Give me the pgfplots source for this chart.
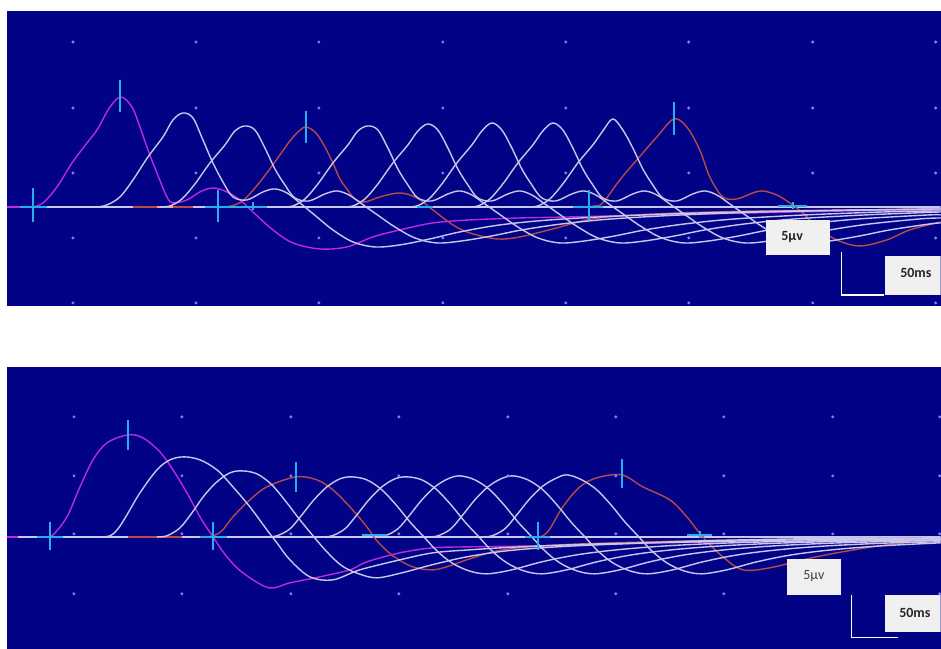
\documentclass[border=0pt]{standalone}
\usepackage{pgfplots}
\pgfplotsset{compat=1.18}
\usepackage{fontspec}
\setmainfont{Carlito}
\definecolor{bg}{RGB}{2,2,135}
\definecolor{wtr}{RGB}{200,200,238}
\definecolor{ptr}{RGB}{190,40,225}
\definecolor{btr}{RGB}{185,72,72}
\definecolor{cy}{RGB}{40,175,235}
\definecolor{dotc}{RGB}{130,130,255}
\definecolor{boxg}{RGB}{240,240,240}
\definecolor{salm}{RGB}{235,170,150}
\pgfplotsset{
  panel/.style={scale only axis, axis background/.style={fill=bg}, axis line style={draw=none},
    xtick=\empty, ytick=\empty, xmin=7, xmax=941},
  trw/.style={color=wtr, line width=1.4pt, smooth, tension=0.55, mark=none},
  trp/.style={color=ptr, line width=1.4pt, smooth, tension=0.55, mark=none},
  trb/.style={color=btr, line width=1.4pt, smooth, tension=0.55, mark=none},
  base/.style={line width=1.6pt, mark=none},
  mk/.style={color=cy, line width=1.5pt, mark=none},
  dots/.style={only marks, mark=*, mark size=1.3pt, color=dotc},
}
\begin{document}
\begin{tikzpicture}[x=1pt,y=1pt]
\fill[white] (0,0) rectangle (941,-649);
% ---------------- top panel ----------------
\begin{axis}[panel, at={(7pt,-11pt)}, anchor=north west, width=934pt, height=295pt, ymin=-99, ymax=196]
\addplot[dots] coordinates {
(73,165)(196,165)(319,165)(443,165)(566,165)(689,165)(813,165)(936,165)
(73,99)(196,99)(319,99)(443,99)(566,99)(689,99)(813,99)(936,99)
(73,34)(196,34)(319,34)(443,34)(566,34)(689,34)(813,34)(936,34)
(73,-31)(196,-31)(319,-31)(443,-31)(566,-31)(689,-31)(936,-31)
(73,-96)(196,-96)(319,-96)(443,-96)(566,-96)(689,-96)(813,-96)(936,-96)};
% baseline
\addplot[base, color=wtr] coordinates {(7,0)(941,0)};
\addplot[base, color=ptr] coordinates {(7,0)(30,0)};
\addplot[base, color=btr] coordinates {(133,0)(193,0)};
\addplot[base, color=salm] coordinates {(157,0)(173,0)};
% purple
\addplot[trp] coordinates {(33,0)(43,4)(57,20)(72,44)(87,64)(97,77)(110,100)(121,110)(132,100)(140,80)(148,57)(157,34)(167,10)(173,4)(187,7)(200,15)(213,19)(227,15)(240,7)(253,-5)(273,-23)(293,-36)(320,-42)(347,-40)(373,-30)(400,-23)(433,-16)(470,-13)(520,-11)(570,-10)(650,-8)(750,-6)(850,-4)(941,-3)};
% brown 306
\addplot[trb] coordinates {(225,0)(235,2)(245,8)(260,25)(275,45)(290,66)(298,75)(306,80)(316,74)(325,60)(333,44)(340,28)(347,18)(355,8)(365,5)(380,10)(400,14)(417,9)(433,-3)(453,-18)(470,-26)(497,-32)(520,-30)(553,-22)(587,-13)(620,-9)(680,-6)(760,-4)(860,-3)(941,-2)};
% brown 674
\addplot[trb] coordinates {(585,0)(595,1)(603,4)(620,27)(637,47)(657,70)(674,88)(687,80)(700,57)(710,30)(723,10)(737,8)(753,14)(763,16)(777,12)(790,4)(803,-6)(817,-20)(837,-33)(860,-39)(887,-33)(910,-23)(941,-15)};
% whites
\addplot[trw] coordinates {(97,0)(107,2)(120,10)(133,27)(148,50)(163,70)(173,87)(183,94)(193,89)(203,67)(213,44)(223,25)(233,10)(247,7)(263,15)(275,18)(287,14)(300,4)(317,-10)(333,-23)(353,-35)(375,-40)(400,-38)(430,-32)(460,-25)(500,-18)(550,-13)(620,-9)(700,-6)(800,-4)(941,-2)};
\addplot[trw] coordinates {(160,0)(170,1)(182,8)(195,23)(210,44)(225,62)(235,76)(245,81)(255,77)(265,59)(275,38)(285,22)(295,9)(309,6)(325,13)(337,16)(349,12)(362,3)(379,-9)(395,-20)(415,-31)(437,-36)(462,-34)(492,-29)(522,-23)(562,-17)(612,-12)(682,-8)(762,-5)(862,-3)(941,-2)};
\addplot[trw] coordinates {(283,0)(293,1)(305,8)(318,23)(333,44)(348,62)(358,76)(368,81)(378,77)(388,59)(398,38)(408,22)(418,9)(432,6)(448,13)(460,16)(472,12)(485,3)(502,-9)(518,-20)(538,-31)(560,-36)(585,-34)(615,-29)(645,-23)(685,-17)(735,-12)(805,-8)(885,-5)(941,-4)};
\addplot[trw] coordinates {(343,0)(353,1)(365,8)(378,23)(393,44)(408,62)(418,76)(428,83)(438,77)(448,59)(458,38)(468,22)(478,9)(492,6)(508,13)(520,16)(532,12)(545,3)(562,-9)(578,-20)(598,-31)(620,-36)(645,-34)(675,-29)(705,-23)(745,-17)(795,-12)(865,-8)(941,-5)};
\addplot[trw] coordinates {(407,0)(417,1)(429,8)(442,23)(457,44)(472,62)(482,76)(492,84)(502,77)(512,59)(522,38)(532,22)(542,9)(556,6)(572,13)(584,16)(596,12)(609,3)(626,-9)(642,-20)(662,-31)(684,-36)(709,-34)(739,-29)(769,-23)(809,-17)(859,-12)(929,-8)(941,-8)};
\addplot[trw] coordinates {(468,0)(478,1)(490,8)(503,23)(518,44)(533,62)(543,76)(553,84)(563,77)(573,59)(583,38)(593,22)(603,9)(617,6)(633,13)(645,16)(657,12)(670,3)(687,-9)(703,-20)(723,-31)(745,-36)(770,-34)(800,-29)(830,-23)(870,-17)(920,-12)(941,-11)};
\addplot[trw] coordinates {(528,0)(538,1)(550,8)(563,23)(578,44)(593,62)(603,76)(613,88)(623,77)(633,59)(643,38)(653,22)(663,9)(677,6)(693,13)(705,16)(717,12)(730,3)(747,-9)(763,-20)(783,-31)(805,-36)(830,-34)(860,-29)(890,-23)(930,-17)(941,-16)};
% cyan markers
\addplot[mk] coordinates {(120,127)(120,95)};
\addplot[mk] coordinates {(306,96)(306,64)};
\addplot[mk] coordinates {(674,105)(674,72)};
\addplot[mk] coordinates {(33,19)(33,-15)};
\addplot[mk] coordinates {(20,0)(47,0)};
\addplot[mk] coordinates {(218,17)(218,-15)};
\addplot[mk] coordinates {(205,0)(267,0)};
\addplot[mk] coordinates {(253,5)(253,-3)};
\addplot[mk] coordinates {(417,0)(433,0)};
\addplot[mk] coordinates {(589,17)(589,-13)};
\addplot[mk] coordinates {(573,0)(603,0)};
\addplot[mk] coordinates {(778,1)(807,1)};
\addplot[mk] coordinates {(793,5)(793,-2)};
% scale bar
\fill[boxg] (axis cs:766,-13) rectangle (axis cs:830,-48);
\fill[boxg] (axis cs:885,-49) rectangle (axis cs:941,-88);
\draw[white, line width=1.2pt] (axis cs:842,-45) -- (axis cs:842,-88) -- (axis cs:884,-88);
\node[anchor=west, font=\bfseries\fontsize{14}{16}\selectfont, text=black!85] at (axis cs:778,-30) {5µv};
\node[anchor=west, font=\bfseries\fontsize{14}{16}\selectfont, text=black!85] at (axis cs:897,-66) {50ms};
\end{axis}
% ---------------- bottom panel ----------------
\begin{axis}[panel, at={(7pt,-367pt)}, anchor=north west, width=934pt, height=282pt, ymin=-112, ymax=170]
\addplot[dots] coordinates {
(74,120)(182,120)(291,120)(399,120)(508,120)(616,120)(724,120)(833,120)(940,120)
(74,61)(182,61)(291,61)(399,61)(508,61)(616,61)(724,61)(833,61)(940,61)
(74,3)(182,3)(291,3)(399,3)(508,3)(616,3)(724,3)(833,3)(940,3)
(74,-57)(182,-57)(291,-57)(399,-57)(508,-57)(616,-57)(724,-57)(940,-57)};
% baseline
\addplot[base, color=wtr] coordinates {(7,0)(941,0)};
\addplot[base, color=ptr] coordinates {(7,0)(18,0)};
\addplot[base, color=btr] coordinates {(128,0)(182,0)};
% purple
\addplot[trp] coordinates {(45,0)(53,2)(67,20)(80,50)(93,77)(107,94)(128,102)(143,99)(160,85)(173,67)(187,44)(200,20)(213,0)(227,-20)(243,-36)(269,-51)(290,-46)(320,-40)(350,-33)(367,-25)(400,-16)(433,-11)(470,-10)(540,-9)(620,-7)(720,-5)(830,-4)(941,-3)};
% brown 297
\addplot[trb] coordinates {(205,0)(213,1)(222,6)(233,20)(250,37)(267,50)(296,60)(317,57)(333,47)(350,30)(367,10)(377,-4)(393,-19)(413,-30)(433,-33)(450,-29)(470,-22)(503,-13)(560,-8)(650,-5)(750,-3)(941,-1)};
% brown 622
\addplot[trb] coordinates {(535,0)(543,1)(550,8)(563,30)(580,50)(597,59)(622,62)(643,50)(670,37)(687,20)(703,0)(723,-20)(743,-33)(770,-31)(803,-23)(837,-16)(887,-8)(941,-3)};
% whites
\addplot[trw] coordinates {(100,0)(110,1)(118,8)(127,22)(140,44)(157,67)(170,77)(184,80)(200,77)(217,67)(233,50)(250,30)(267,7)(277,-6)(290,-23)(310,-40)(333,-43)(360,-33)(400,-23)(433,-16)(470,-13)(520,-10)(600,-7)(700,-5)(800,-3)(941,-2)};
\addplot[trw] coordinates {(157,0)(167,1)(180,9)(192,24)(204,41)(217,55)(230,64)(242,66)(257,63)(272,52)(287,34)(300,17)(314,0)(327,-15)(342,-29)(359,-37)(377,-41)(402,-36)(432,-28)(467,-20)(507,-14)(557,-10)(622,-7)(702,-4)(802,-2)(941,-1)};
\addplot[trw] coordinates {(267,0)(277,1)(290,8)(302,22)(314,37)(327,50)(340,58)(352,60)(367,57)(382,47)(397,31)(410,15)(424,0)(437,-14)(452,-26)(469,-34)(487,-37)(512,-33)(542,-25)(577,-18)(617,-13)(667,-9)(732,-6)(812,-4)(912,-2)(941,-2)};
\addplot[trw] coordinates {(322,0)(332,1)(345,8)(357,22)(369,37)(382,50)(395,58)(407,60)(422,57)(437,47)(452,31)(465,15)(479,0)(492,-14)(507,-26)(524,-34)(542,-37)(567,-33)(597,-25)(632,-18)(672,-13)(722,-9)(787,-6)(867,-4)(941,-3)};
\addplot[trw] coordinates {(375,0)(385,1)(398,8)(410,22)(422,37)(435,50)(448,58)(460,61)(475,57)(490,47)(505,31)(518,15)(532,0)(545,-14)(560,-26)(577,-34)(595,-37)(620,-33)(650,-25)(685,-18)(725,-13)(775,-9)(840,-6)(920,-4)(941,-4)};
\addplot[trw] coordinates {(428,0)(438,1)(451,8)(463,22)(475,37)(488,50)(501,58)(513,61)(528,57)(543,47)(558,31)(571,15)(585,0)(598,-14)(613,-26)(630,-34)(648,-37)(673,-33)(703,-25)(738,-18)(778,-13)(828,-9)(893,-6)(941,-5)};
\addplot[trw] coordinates {(482,0)(492,1)(505,8)(517,22)(529,37)(542,50)(555,58)(567,62)(582,57)(597,47)(612,31)(625,15)(639,0)(652,-14)(667,-26)(684,-34)(702,-37)(727,-33)(757,-25)(792,-18)(832,-13)(882,-9)(941,-6)};
% cyan markers
\addplot[mk] coordinates {(128,117)(128,87)};
\addplot[mk] coordinates {(296,75)(296,45)};
\addplot[mk] coordinates {(622,78)(622,49)};
\addplot[mk] coordinates {(50,15)(50,-13)};
\addplot[mk] coordinates {(37,0)(63,0)};
\addplot[mk] coordinates {(213,15)(213,-13)};
\addplot[mk] coordinates {(200,0)(227,0)};
\addplot[mk] coordinates {(538,15)(538,-13)};
\addplot[mk] coordinates {(525,0)(550,0)};
\addplot[mk] coordinates {(362,2)(387,2)};
\addplot[mk] coordinates {(687,2)(712,2)};
\addplot[mk] coordinates {(700,6)(700,-1)};
% scale bar
\fill[boxg] (axis cs:787,-22) rectangle (axis cs:841,-58);
\fill[boxg] (axis cs:885,-58) rectangle (axis cs:941,-95);
\draw[white, line width=1.2pt] (axis cs:852,-58) -- (axis cs:852,-101) -- (axis cs:898,-101);
\node[anchor=west, font=\fontsize{14}{16}\selectfont, text=black!75] at (axis cs:800,-39) {5µv};
\node[anchor=west, font=\bfseries\fontsize{14}{16}\selectfont, text=black!85] at (axis cs:896,-76) {50ms};
\end{axis}
\end{tikzpicture}
\end{document}
